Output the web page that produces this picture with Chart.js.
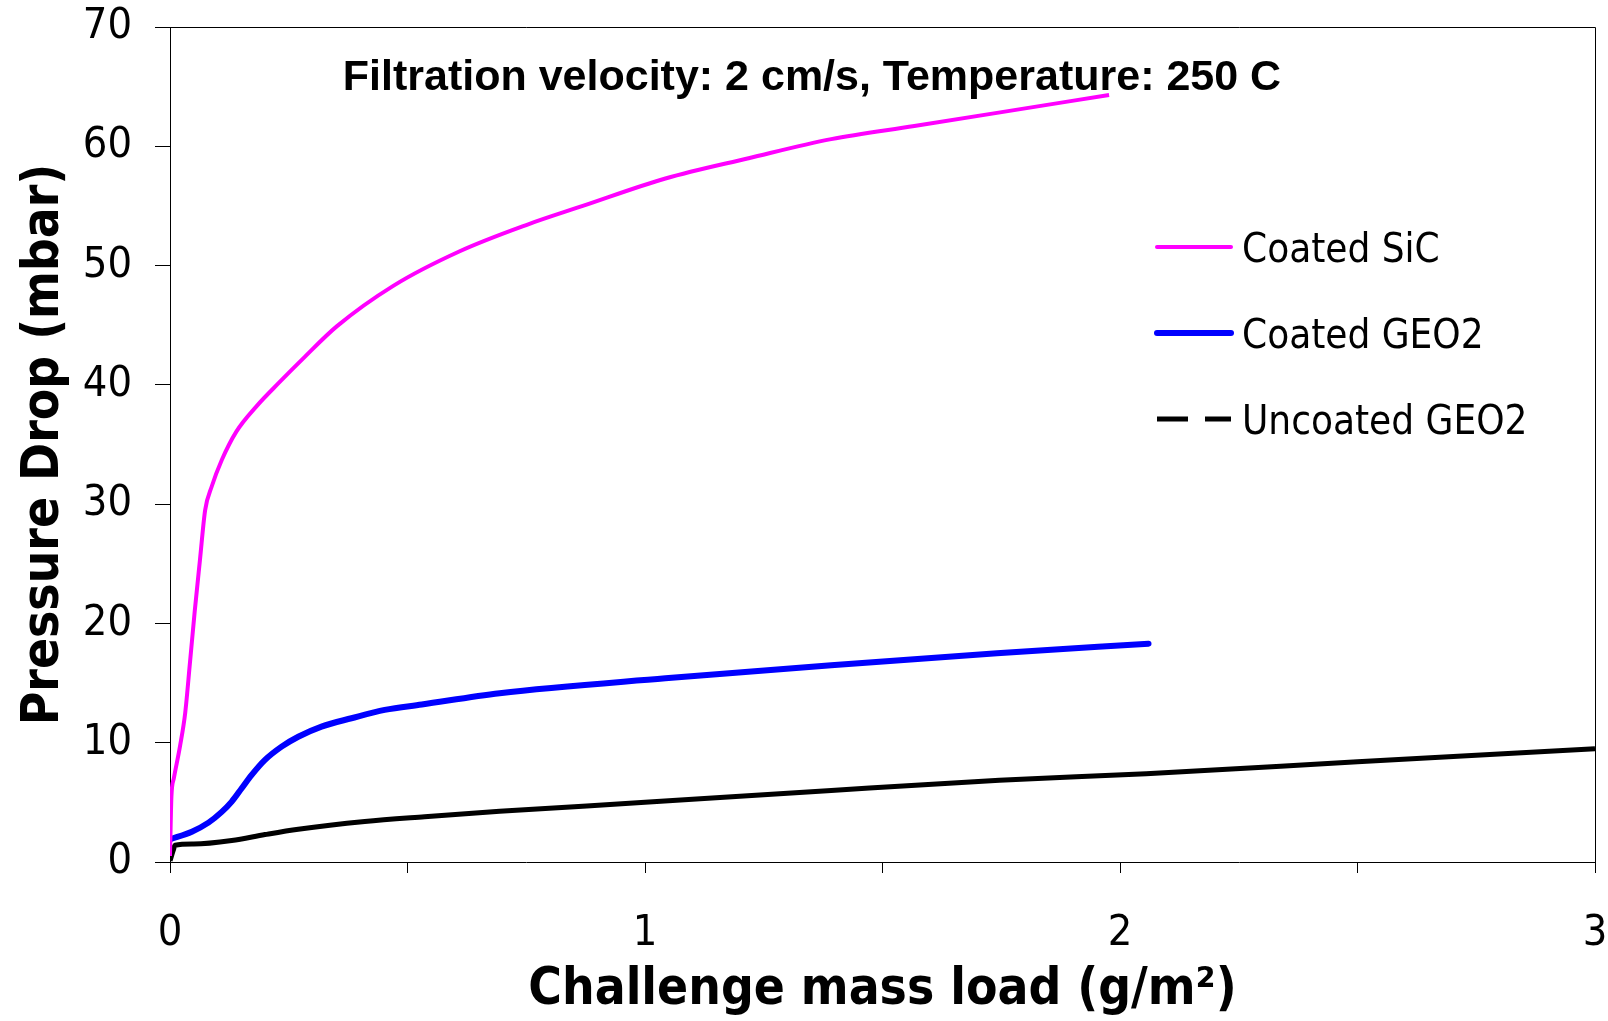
<!DOCTYPE html>
<html>
<head>
<meta charset="utf-8">
<script src="https://cdn.jsdelivr.net/npm/chart.js@4.4.1/dist/chart.umd.min.js"></script>
<style>
  html, body { margin: 0; padding: 0; background: #fff; }
  #wrap { width: 1608px; height: 1021px; }
</style>
</head>
<body>
<div id="wrap"><canvas id="mainChart"></canvas></div>
<script>
const seriesNames = ['Coated SiC', 'Coated GEO2', 'Uncoated GEO2'];

const sicLoad = [0, 0.003, 0.008, 0.021, 0.032, 0.042, 0.052, 0.063, 0.074, 0.088, 0.109, 0.14, 0.182, 0.23, 0.28, 0.351, 0.47, 0.61, 0.75, 0.869, 1.043, 1.218, 1.392, 1.567, 1.741, 1.977];
const sicDrop = [0.5, 5.5, 7.0, 9.7, 12.5, 16.7, 21.0, 25.3, 29.5, 31.5, 33.7, 36.1, 38.2, 40.2, 42.2, 44.9, 48.3, 51.2, 53.4, 55.0, 57.3, 59.0, 60.6, 61.7, 62.8, 64.3];

const geo2CoatedLoad = [0, 0.046, 0.081, 0.109, 0.13, 0.151, 0.172, 0.2, 0.235, 0.27, 0.319, 0.382, 0.452, 0.53, 0.694, 1.043, 1.392, 1.741, 2.06];
const geo2CoatedDrop = [1.9, 2.54, 3.3, 4.2, 5.06, 6.18, 7.3, 8.56, 9.67, 10.5, 11.35, 12.05, 12.75, 13.2, 14.15, 15.4, 16.5, 17.5, 18.3];

const geo2UncoatedLoad = [0, 0.007, 0.0105, 0.05, 0.13, 0.2, 0.27, 0.41, 0.536, 0.694, 1.0, 1.392, 1.746, 2.055, 2.5, 3.0];
const geo2UncoatedDrop = [0.1, 1.0, 1.4, 1.5, 1.8, 2.3, 2.75, 3.4, 3.8, 4.25, 5.0, 6.0, 6.85, 7.4, 8.4, 9.5];

const xLabelTicks = [0, 1, 2, 3];
const yRange = [0, 70];

const chartNote = 'Filtration velocity: 2 cm/s, Temperature: 250 C';

const pts = (xs, ys) => xs.map((x, i) => ({ x: x, y: ys[i] }));

const tickFont = { family: '"DejaVu Sans Condensed", "DejaVu Sans"', size: 43 };
const titleFont = { family: '"DejaVu Sans Condensed", "DejaVu Sans"', size: 51, weight: 'bold' };

// legend sits inside the plot, excel-style, so draw it ourselves
const legendStyle = [
  { width: 4, dash: [], cap: 'round' },
  { width: 6, dash: [], cap: 'round' },
  { width: 5, dash: [31, 17], cap: 'butt' }
];

// keep the plot box where the original has it, whatever the labels want
const noScalePadding = (s) => {
  s.paddingTop = 0; s.paddingBottom = 0; s.paddingLeft = 0; s.paddingRight = 0;
};

const notesPlugin = {
  id: 'notes',
  afterDraw(chart) {
    const { ctx, chartArea: a } = chart;
    ctx.save();
    // box around plot
    ctx.strokeStyle = '#000';
    ctx.lineWidth = 1;
    ctx.beginPath();
    ctx.moveTo(Math.round(a.left) + 0.5, Math.round(a.top) + 0.5);
    ctx.lineTo(Math.round(a.right) + 0.5, Math.round(a.top) + 0.5);
    ctx.lineTo(Math.round(a.right) + 0.5, Math.round(a.bottom) + 0.5);
    ctx.stroke();

    ctx.fillStyle = '#000';
    ctx.font = 'bold 43px "Liberation Sans", Arial, sans-serif';
    ctx.textAlign = 'center';
    ctx.textBaseline = 'alphabetic';
    ctx.fillText(chartNote, 812, 90);

    ctx.font = '40px "DejaVu Sans Condensed", "DejaVu Sans"';
    ctx.textAlign = 'left';
    chart.data.datasets.forEach((ds, i) => {
      const y = 247 + i * 86;
      const st = legendStyle[i];
      ctx.strokeStyle = ds.borderColor;
      ctx.lineWidth = st.width;
      ctx.lineCap = st.cap;
      ctx.setLineDash(st.dash);
      ctx.beginPath();
      ctx.moveTo(1157, y);
      ctx.lineTo(1231, y);
      ctx.stroke();
      ctx.setLineDash([]);
      ctx.fillText(ds.label, 1242, y + 14.5);
    });
    ctx.restore();
  }
};

new Chart(document.getElementById('mainChart'), {
  type: 'line',
  data: {
    datasets: [
      { label: seriesNames[0], data: pts(sicLoad, sicDrop), borderColor: '#ff00ff', borderWidth: 4 },
      { label: seriesNames[1], data: pts(geo2CoatedLoad, geo2CoatedDrop), borderColor: '#0000ff', borderWidth: 6, borderCapStyle: 'round' },
      { label: seriesNames[2], data: pts(geo2UncoatedLoad, geo2UncoatedDrop), borderColor: '#000000', borderWidth: 5 }
    ]
  },
  options: {
    responsive: true,
    maintainAspectRatio: false,
    animation: false,
    layout: { padding: { top: 27, right: 13, left: 0, bottom: 0 } },
    elements: {
      point: { radius: 0, hoverRadius: 0 },
      line: { cubicInterpolationMode: 'monotone', fill: false }
    },
    plugins: {
      legend: { display: false },
      tooltip: { enabled: false }
    },
    scales: {
      x: {
        type: 'linear',
        min: xLabelTicks[0],
        max: xLabelTicks[xLabelTicks.length - 1],
        afterFit: (s) => { s.height = 159; noScalePadding(s); },
        border: { display: true, color: '#000', width: 1 },
        grid: { drawOnChartArea: false, drawTicks: true, tickLength: 11, color: '#000' },
        ticks: {
          stepSize: 0.5,
          autoSkip: false,
          maxRotation: 0,
          padding: 35,
          color: '#000',
          font: tickFont,
          callback: (v) => (xLabelTicks.includes(v) ? String(v) : '')
        },
        title: {
          display: true,
          text: 'Challenge mass load (g/m²)',
          color: '#000',
          font: titleFont,
          padding: { top: 0, bottom: 0 }
        }
      },
      y: {
        min: yRange[0],
        max: yRange[1],
        afterFit: (s) => { s.width = 170; noScalePadding(s); },
        border: { display: true, color: '#000', width: 1 },
        grid: { drawOnChartArea: false, drawTicks: true, tickLength: 15, color: '#000' },
        ticks: { stepSize: 10, padding: 23, color: '#000', font: tickFont },
        title: {
          display: true,
          text: 'Pressure Drop (mbar)',
          color: '#000',
          font: titleFont,
          padding: { top: 14, bottom: 0 }
        }
      }
    }
  },
  plugins: [notesPlugin]
});
</script>
</body>
</html>
